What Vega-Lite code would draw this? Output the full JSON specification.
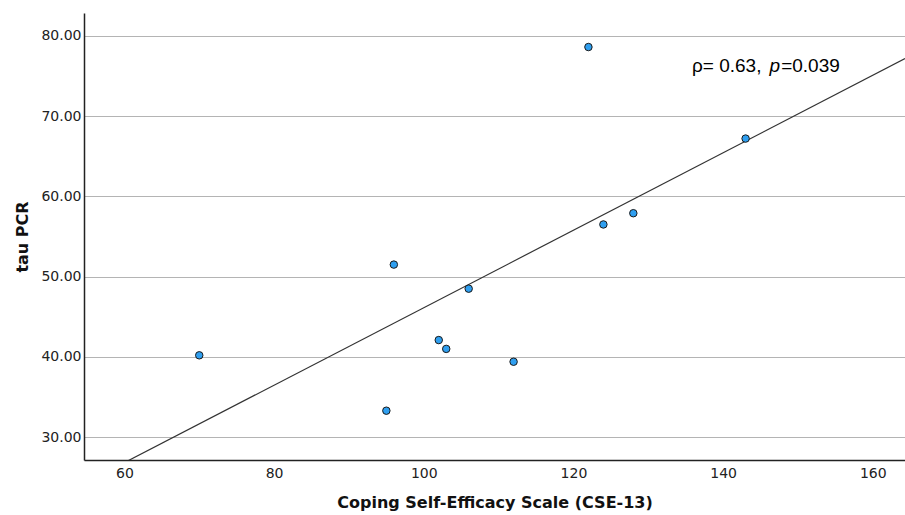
{
  "$schema": "https://vega.github.io/schema/vega-lite/v6.json",
  "width": 821,
  "height": 447,
  "autosize": {"type": "none"},
  "padding": {"left": 84, "top": 13, "right": 0, "bottom": 55},
  "background": "white",
  "config": {
    "view": {"stroke": null},
    "axis": {
      "labelFont": "DejaVu Sans",
      "labelFontSize": 14,
      "labelColor": "#222222",
      "titleFont": "DejaVu Sans",
      "titleFontSize": 16,
      "titleFontWeight": "bold",
      "titleColor": "#111111",
      "domainColor": "#222222",
      "domainWidth": 1.5,
      "ticks": false
    }
  },
  "datasets": {
    "pts": [
      {"cse": 70, "tau": 40.2},
      {"cse": 95, "tau": 33.3},
      {"cse": 96, "tau": 51.5},
      {"cse": 102, "tau": 42.1},
      {"cse": 103, "tau": 41.0},
      {"cse": 106, "tau": 48.5},
      {"cse": 112, "tau": 39.4},
      {"cse": 122, "tau": 78.6},
      {"cse": 124, "tau": 56.5},
      {"cse": 128, "tau": 57.9},
      {"cse": 143, "tau": 67.2}
    ]
  },
  "layer": [
    {
      "data": {"name": "pts"},
      "transform": [
        {"regression": "tau", "on": "cse", "extent": [54.6, 164.3]}
      ],
      "mark": {"type": "line", "color": "#333333", "strokeWidth": 1.2, "clip": true},
      "encoding": {
        "x": {
          "field": "cse",
          "type": "quantitative",
          "scale": {"domain": [54.6, 164.3], "nice": false, "zero": false},
          "axis": {
            "title": "Coping Self-Efficacy Scale (CSE-13)",
            "values": [60, 80, 100, 120, 140, 160],
            "grid": false,
            "labelPadding": 6,
            "titlePadding": 14
          }
        },
        "y": {
          "field": "tau",
          "type": "quantitative",
          "scale": {"domain": [27.16, 82.84], "nice": false, "zero": false},
          "axis": {
            "title": "tau PCR",
            "values": [30, 40, 50, 60, 70, 80],
            "format": ".2f",
            "grid": true,
            "gridColor": "#b4b4b4",
            "gridWidth": 1,
            "labelPadding": 3,
            "titlePadding": 10
          }
        }
      }
    },
    {
      "data": {"name": "pts"},
      "mark": {"type": "point", "shape": "circle", "filled": true, "size": 56, "fill": "#2f9ff0", "stroke": "#1a1a1a", "strokeWidth": 1, "opacity": 1},
      "encoding": {
        "x": {"field": "cse", "type": "quantitative"},
        "y": {"field": "tau", "type": "quantitative"}
      }
    },
    {
      "data": {"values": [{"x": 135.84, "y": 75.45, "t": "ρ= 0.63,"}]},
      "mark": {"type": "text", "font": "Liberation Sans", "fontSize": 19, "align": "left", "baseline": "alphabetic", "color": "#000000"},
      "encoding": {
        "x": {"field": "x", "type": "quantitative"},
        "y": {"field": "y", "type": "quantitative"},
        "text": {"field": "t"}
      }
    },
    {
      "data": {"values": [{"x": 146.2, "y": 75.45, "t": "p"}]},
      "mark": {"type": "text", "font": "Liberation Sans", "fontSize": 19, "fontStyle": "italic", "align": "left", "baseline": "alphabetic", "color": "#000000"},
      "encoding": {
        "x": {"field": "x", "type": "quantitative"},
        "y": {"field": "y", "type": "quantitative"},
        "text": {"field": "t"}
      }
    },
    {
      "data": {"values": [{"x": 147.75, "y": 75.45, "t": "=0.039"}]},
      "mark": {"type": "text", "font": "Liberation Sans", "fontSize": 19, "align": "left", "baseline": "alphabetic", "color": "#000000"},
      "encoding": {
        "x": {"field": "x", "type": "quantitative"},
        "y": {"field": "y", "type": "quantitative"},
        "text": {"field": "t"}
      }
    }
  ]
}
